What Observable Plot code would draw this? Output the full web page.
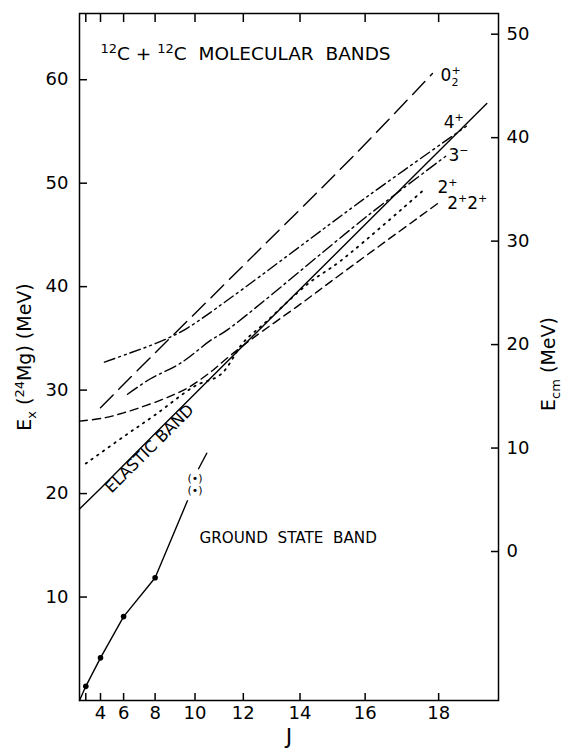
<!DOCTYPE html>
<html><head><meta charset="utf-8">
<script src="https://cdn.jsdelivr.net/npm/d3@7"></script>
<script src="https://cdn.jsdelivr.net/npm/@observablehq/plot@0.6"></script>
<style>
body{margin:0;background:#fff;}
</style></head><body><div id="chart"></div>
<script>
// ---- tick values ----
const jTicks = [2, 4, 6, 8, 10, 12, 14, 16, 18];
const exTicks = [10, 20, 30, 40, 50, 60];
const ecmTicks = [0, 10, 20, 30, 40, 50];
const ecmOffset = 14.4; // Ex(24Mg) of Ecm = 0 as drawn

// ---- bands: J and Ex (MeV) ----
const elasticJ = [0, 4, 8, 12, 16, 19.2];
const elasticE = [18.5, 20.5, 25.8, 34.3, 46.0, 57.7];
const band02J = [4, 8, 11.5, 15.8, 17.84];
const band02E = [28.3, 33.6, 40.8, 53.1, 60.6];
const band4J = [4.4, 6.28, 7.56, 8.67, 9.65, 11.5, 16.1, 18.7];
const band4E = [32.7, 33.5, 34.2, 35.0, 36.0, 38.9, 48.8, 55.5];
const band3J = [6.28, 7.74, 9.32, 10.68, 11.42, 16.09, 18.18];
const band3E = [29.6, 31.1, 32.6, 34.8, 35.9, 46.9, 52.6];
const band2J = [2, 6, 8, 10, 11.1, 12, 12.8, 14.27, 15.28, 17.66];
const band2E = [22.9, 25.5, 27.6, 30.4, 31.5, 34.6, 36.5, 40.3, 42.5, 49.5];
const band22J = [0, 4.3, 5.99, 7.45, 8.67, 9.65, 10.6, 11.42, 12.35, 14.1, 15.28, 18.0];
const band22E = [27.0, 27.3, 27.8, 28.5, 29.3, 30.2, 31.6, 33.2, 35.0, 38.5, 41.2, 48.1];

// ground state band
const gsLineJ = [0, 2, 4, 6, 8, 9.65];
const gsLineE = [0, 1.37, 4.12, 8.11, 11.86, 19.3];
const gsUpperJ = [10.16, 10.52];
const gsUpperE = [22.4, 23.9];
const gsDotJ = [2, 4, 6, 8];
const gsDotE = [1.37, 4.12, 8.11, 11.86];
const gsTentJ = [10, 10];
const gsTentE = [21.5, 20.3];

// labels
const bandLabels = ["02+", "4+", "3-", "2+", "2+2+"];
const bandLabelJ = [18.05, 18.13, 18.25, 17.97, 18.22];
const bandLabelE = [60.4, 55.9, 52.7, 49.6, 48.0];
const titleText = "12C + 12C MOLECULAR BANDS";
const elasticText = "ELASTIC BAND";
const groundText = "GROUND STATE BAND";
const yLabelLeft = "Ex (24Mg) (MeV)";
const yLabelRight = "Ecm (MeV)";
const xLabel = "J";

const jj = J => J * (J + 1);
const rows = (J, E) => J.map((j, i) => ({x: jj(j), y: E[i]}));

const lineOpts = {x: "x", y: "y", stroke: "black", strokeWidth: 1.4, curve: "catmull-rom"};

const chart = Plot.plot({
  width: 564, height: 750,
  marginLeft: 79, marginRight: 66, marginTop: 13, marginBottom: 50,
  x: {domain: [0, 399]},
  y: {domain: [0, 66.4]},
  style: {fontFamily: "DejaVu Sans", fontSize: "18px", color: "black", background: "white", overflow: "visible"},
  marks: [
    Plot.frame({strokeWidth: 1.5}),
    Plot.axisX(jTicks.map(jj), {anchor: "bottom", tickSize: -7, tickPadding: 13, strokeWidth: 1.5, label: null,
      tickFormat: v => { const J = Math.round((Math.sqrt(1 + 4 * v) - 1) / 2); return J === 2 ? "" : String(J); }}),
    Plot.axisX(jTicks.map(jj), {anchor: "top", tickSize: -8, strokeWidth: 1.5, label: null, tickFormat: () => ""}),
    Plot.axisY(exTicks, {anchor: "left", tickSize: -8, tickPadding: 19, strokeWidth: 1.5, label: null}),
    Plot.axisY(ecmTicks.map(v => v + ecmOffset), {anchor: "right", tickSize: -8, tickPadding: 16, strokeWidth: 1.5, label: null,
      tickFormat: v => String(Math.round(v - ecmOffset))}),
    Plot.line(rows(elasticJ, elasticE), {...lineOpts, curve: "linear"}),
    Plot.line(rows(band02J, band02E), {...lineOpts, strokeDasharray: "18,8"}),
    Plot.line(rows(band4J, band4E), {...lineOpts, strokeDasharray: "11,4,2,4,2,4"}),
    Plot.line(rows(band3J, band3E), {...lineOpts, strokeDasharray: "12,4,2,4"}),
    Plot.line(rows(band2J, band2E), {...lineOpts, strokeDasharray: "1.5,5.5", strokeWidth: 1.8}),
    Plot.line(rows(band22J, band22E), {...lineOpts, strokeDasharray: "8,5"}),
    Plot.line(rows(gsLineJ, gsLineE), {...lineOpts, curve: "linear"}),
    Plot.line(rows(gsUpperJ, gsUpperE), {...lineOpts, curve: "linear"}),
    Plot.dot(rows(gsDotJ, gsDotE), {x: "x", y: "y", r: 2.8, fill: "black", stroke: null}),
    Plot.text(rows(gsTentJ, gsTentE), {x: "x", y: "y", text: () => "(\u2022)", fontSize: 11}),
    Plot.text(bandLabels, {x: (d, i) => jj(bandLabelJ[i]), y: (d, i) => bandLabelE[i], text: d => d, textAnchor: "start", fontSize: 17}),
    Plot.text([titleText], {frameAnchor: "top-left", dx: 21, dy: 41, text: d => d, textAnchor: "start", lineAnchor: "middle", fontSize: 18.5}),
    Plot.text([elasticText], {x: () => jj(7.74), y: () => 25.3, text: d => d, rotate: -44.8, dx: -1, dy: 10, fontSize: 16}),
    Plot.text([groundText], {x: () => jj(10.2), y: () => 15.7, text: d => d, textAnchor: "start", fontSize: 15.2}),
    Plot.text([yLabelLeft], {frameAnchor: "left", dx: -55, text: d => d, rotate: -90, textAnchor: "middle", lineAnchor: "middle", fontSize: 19}),
    Plot.text([yLabelRight], {frameAnchor: "right", dx: 50, dy: 7, text: d => d, rotate: -90, textAnchor: "middle", lineAnchor: "middle", fontSize: 19}),
    Plot.text([xLabel], {frameAnchor: "bottom", dy: 36, text: d => d, textAnchor: "middle", lineAnchor: "middle", fontSize: 22})
  ]
});

const sup = (s, fs = 12, d = 7) => `<tspan font-size="${fs}" dy="-${d}">${s}</tspan>`;
const rich = {
  [titleText]: `${sup("12", 13)}<tspan dy="7">C + </tspan>${sup("12", 13)}<tspan dy="7">C&#160; MOLECULAR&#160; BANDS</tspan>`,
  [yLabelLeft]: `E<tspan font-size="13" dy="5">x</tspan><tspan dy="-5"> (</tspan>${sup("24", 13)}<tspan dy="7">Mg) (MeV)</tspan>`,
  [yLabelRight]: `E<tspan font-size="13" dy="5">cm</tspan><tspan dy="-5"> (MeV)</tspan>`,
  "02+": `0<tspan font-size="11" dy="5">2</tspan><tspan font-size="11" dx="-7" dy="-12">+</tspan>`,
  "4+": `4${sup("+", 11)}`,
  "3-": `3${sup("\u2212", 11)}`,
  "2+": `2${sup("+", 11)}`,
  "2+2+": `2${sup("+", 11)}<tspan dy="7">2</tspan>${sup("+", 11)}`,
  [groundText]: `GROUND&#160; STATE&#160; BAND`
};
chart.querySelectorAll("text").forEach(t => {
  const k = t.textContent;
  if (rich[k] !== undefined) t.innerHTML = rich[k];
});
document.getElementById("chart").appendChild(chart);
</script></body></html>
